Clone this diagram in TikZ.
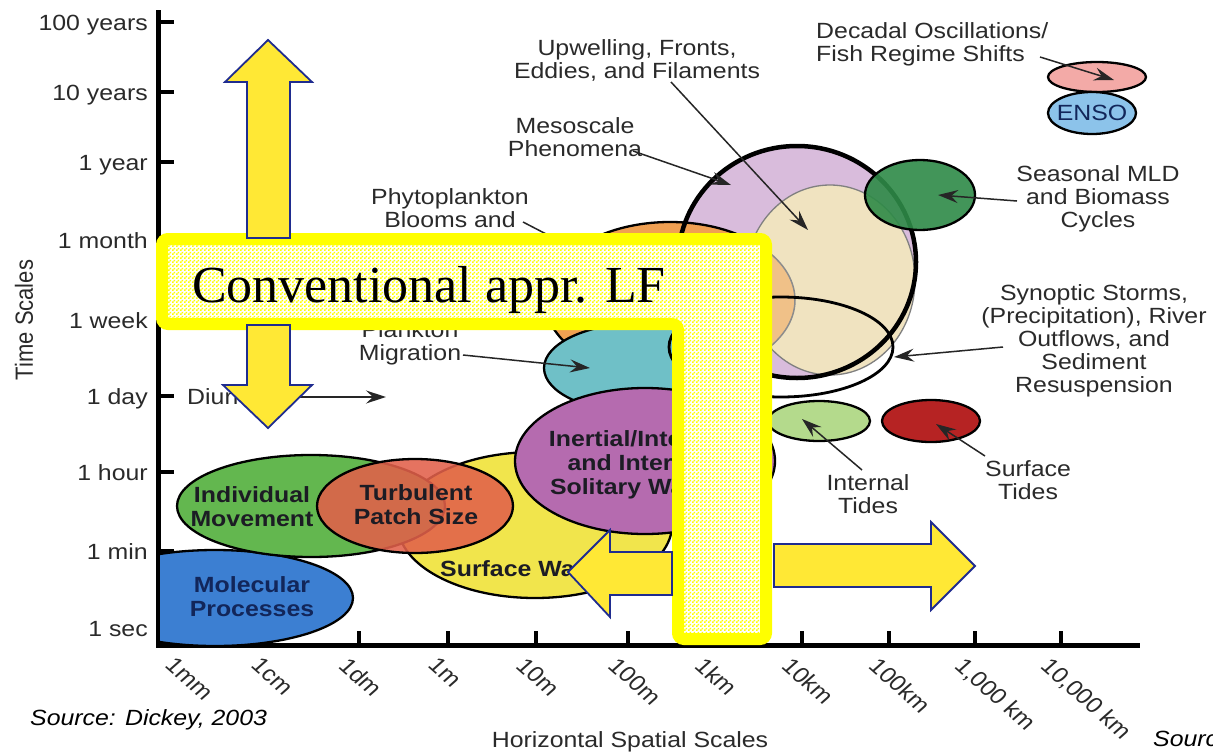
\documentclass[tikz,border=0pt]{standalone}
\usepackage{fontspec}
\setmainfont{Liberation Sans}
\newfontfamily\serifL{Liberation Serif}
\usetikzlibrary{arrows.meta,shapes.geometric,patterns.meta}

\definecolor{labgray}{HTML}{2A2A2A}
\definecolor{ctxt}{HTML}{1C1C24}
\definecolor{cnavy}{HTML}{12265A}
\definecolor{cyel}{HTML}{F1E54C}
\definecolor{cindiv}{HTML}{63B74F}
\definecolor{cturb}{HTML}{E2604A}
\definecolor{cmol}{HTML}{3C7FD2}
\definecolor{cpurp}{HTML}{B56BAF}
\definecolor{cteal}{HTML}{6FC0C7}
\definecolor{corange}{HTML}{F0A052}
\definecolor{clav}{HTML}{D9BCDC}
\definecolor{cbeige}{HTML}{F0E3C0}
\definecolor{citide}{HTML}{B4DA8C}
\definecolor{cstide}{HTML}{B62323}
\definecolor{cmld}{HTML}{2E8A47}
\definecolor{cdec}{HTML}{F3AAA7}
\definecolor{censo}{HTML}{8CC3EA}
\definecolor{ayellow}{HTML}{FFE835}
\definecolor{ablue}{HTML}{1F2C8F}
\definecolor{lyellow}{HTML}{FFFF00}

\pgfdeclarepattern{
  name=ychecker, type=uncolored,
  bottom left={\pgfpoint{0pt}{0pt}}, top right={\pgfpoint{4pt}{4pt}},
  tile size={\pgfpoint{4pt}{4pt}},
  code={\pgfpathrectangle{\pgfpoint{0pt}{0pt}}{\pgfpoint{2pt}{2pt}}%
        \pgfpathrectangle{\pgfpoint{2pt}{2pt}}{\pgfpoint{2pt}{2pt}}%
        \pgfusepath{fill}}
}

\begin{document}
\begin{tikzpicture}[x=1pt,y=-1pt,
  tick/.style={font=\fontsize{22}{23}\selectfont, text=labgray, xscale=1.13, inner sep=0pt},
  lab/.style={font=\fontsize{22}{23}\selectfont, text=labgray, xscale=1.13, align=center, inner sep=0pt},
  blab/.style={font=\bfseries\fontsize{22}{24}\selectfont, text=ctxt, xscale=1.13, align=center, inner sep=0pt},
  xtick/.style={tick, rotate=-45, anchor=north west},
  blob/.style={ellipse, draw=black, line width=2.3pt, inner sep=0pt, outer sep=0pt},
  ann/.style={draw=black!85, line width=1.5pt, -{Stealth[length=20pt,width=13pt,inset=7pt]}},
  yarrow/.style={fill=ayellow, draw=ablue, line width=1.8pt, line join=miter},
  tickline/.style={line width=4pt, black}
]
\useasboundingbox (0,0) rectangle (1213,755);
\clip (0,0) rectangle (1213,755);
\fill[white] (0,0) rectangle (1213,755);

% ---------- axes ----------
\coordinate (yTop) at (158,10);
\coordinate (xEnd) at (1140,645);
\draw[line width=5pt, line join=miter] (yTop) |- (xEnd);
\foreach \y/\t in {22/100 years, 92/10 years, 162/1 year, 240/1 month, 320/1 week, 396/1 day, 472/1 hour, 551/1 min, 628/1 sec}{
  \draw[tickline] (158,\y) -- (174,\y);
  \node[tick, anchor=base east] (yl\y) at (148,\y+8) {\t};
}
\foreach \x/\t in {185/1mm, 271/1cm, 359/1dm, 448/1m, 536/10m, 628/100m, 715/1km, 802/10km, 889/100km, 975/{1,000 km}, 1061/{10,000 km}}{
  \draw[tickline] (\x,645) -- (\x,631);
  \node[xtick] (xl\x) at ({\x-9},656) {\t};
}
\node[tick, rotate=90] (ytitle) at (24,320) {Time Scales};
\node[tick] (xtitle) at (630,742) {Horizontal Spatial Scales};
\node[tick, text=black, font=\itshape\fontsize{22}{23}\selectfont, anchor=west] (src1) at (30,720) {Source: Dickey, 2003};
\node[tick, text=black, font=\itshape\fontsize{22}{23}\selectfont, anchor=west] (src2) at (1153,741) {Source: Dickey, 2003};

% ---------- small-scale blobs ----------
\node[blob, fill=cyel, minimum width=274pt, minimum height=146pt] (surf) at (535,525) {};
\begin{scope}
  \clip (160,500) rectangle (420,700);
  \node[blob, fill=cmol, minimum width=276pt, minimum height=96pt] (mol) at (215,598) {};
\end{scope}
\node[blob, fill=cindiv, minimum width=268pt, minimum height=102pt] (indiv) at (311,506) {};
\node[blob, fill=cturb, fill opacity=0.88, minimum width=196pt, minimum height=94pt] (turb) at (415,506) {};

% ---------- mesoscale ----------
\node[ellipse, fill=clav, inner sep=0pt, minimum width=238pt, minimum height=232pt] (meso) at (797,262) {};
\node[blob, fill=corange, minimum width=250pt, minimum height=156pt] (bloom) at (670,300) {};
\node[ellipse, fill=cbeige, draw=black!50, line width=1.3pt, inner sep=0pt, minimum width=170pt, minimum height=190pt] (upw) at (830,280) {};
\begin{scope}
  \clip (upw.center) ellipse [x radius=84, y radius=94];
  \fill[corange, opacity=0.5] (bloom.center) ellipse [x radius=125, y radius=78];
  \draw[black!45, line width=1.5pt] (bloom.center) ellipse [x radius=125, y radius=78];
\end{scope}
\node[ellipse, draw=black, line width=4.5pt, inner sep=0pt, minimum width=238pt, minimum height=232pt] (mesoRim) at (797,262) {};
\node[blob, fill=cteal, minimum width=196pt, minimum height=90pt] (migr) at (642,368) {};
\node[blob, fill=cpurp, minimum width=260pt, minimum height=146pt] (inert) at (645,461) {};
\node[blob, minimum width=224pt, minimum height=100pt, line width=2.8pt] (synop) at (781,347) {};
\node[blob, fill=citide, minimum width=102pt, minimum height=40pt] (itide) at (819,421) {};
\node[blob, fill=cstide, minimum width=98pt, minimum height=42pt] (stide) at (931,421) {};
\node[blob, fill=cmld, fill opacity=0.9, minimum width=110pt, minimum height=70pt] (mld) at (920,195) {};
\node[blob, fill=cdec, minimum width=98pt, minimum height=30pt] (dec) at (1097,77) {};
\node[blob, fill=censo, minimum width=88pt, minimum height=42pt] (enso) at (1092,113) {};

% ---------- texts inside blobs ----------
\node[blab, text=cnavy] (molT) at (252,597) {Molecular\\Processes};
\node[blab] (indivT) at (252,507) {Individual\\Movement};
\node[blab] (turbT) at (416,505) {Turbulent\\Patch Size};
\node[blab, anchor=west] (surfT) at (440,569) {Surface Waves};
\node[blab] (inertT) at (638,465) {Inertial/Internal\\and Internal\\Solitary Waves};
\node[tick, text=cnavy] (ensoT) at (1092,113) {ENSO};

% ---------- labels and pointers ----------
\node[lab] (upwL) at (637,60) {Upwelling, Fronts,\\Eddies, and Filaments};
\coordinate (upwS) at (671,82); \coordinate (upwE) at (808,230);
\draw[ann] (upwS) -- (upwE);

\node[lab] (mesoL) at (575,137) {Mesoscale\\Phenomena};
\coordinate (mesoS) at (633,151); \coordinate (mesoE) at (731,185);
\draw[ann] (mesoS) -- (mesoE);

\node[lab, anchor=west, align=left] (decL) at (816,44) {Decadal Oscillations/\\Fish Regime Shifts};
\coordinate (decS) at (1040,57); \coordinate (decE) at (1114,80);
\draw[ann] (decS) -- (decE);

\node[lab] (mldL) at (1098,199) {Seasonal MLD\\and Biomass\\Cycles};
\coordinate (mldS) at (1017,201); \coordinate (mldE) at (938,195);
\draw[ann] (mldS) -- (mldE);

\node[lab] (synL) at (1094,341) {Synoptic Storms,\\(Precipitation), River\\Outflows, and\\Sediment\\Resuspension};
\coordinate (synS) at (1003,347); \coordinate (synE) at (894,357);
\draw[ann] (synS) -- (synE);

\node[lab] (itL) at (868,494) {Internal\\Tides};
\coordinate (itS) at (862,470); \coordinate (itE) at (802,419);
\draw[ann] (itS) -- (itE);

\node[lab] (stL) at (1028,480) {Surface\\Tides};
\coordinate (stS) at (985,456); \coordinate (stE) at (936,424);
\draw[ann] (stS) -- (stE);

\node[lab] (bloomL) at (450,208) {Phytoplankton\\Blooms and};
\coordinate (bloomS) at (523,222); \coordinate (bloomE) at (600,262);
\draw[ann] (bloomS) -- (bloomE);

\node[lab] (migrL) at (410,343) {Plankton\\Migration};
\coordinate (migrS) at (463,355); \coordinate (migrE) at (590,368);
\draw[ann] (migrS) -- (migrE);

\node[lab, anchor=west] (diurL) at (187,397) {Diurnal};
\coordinate (diurS) at (272,397); \coordinate (diurE) at (386,397);
\draw[ann] (diurS) -- (diurE);

% ---------- the L frame ----------
\path[fill=white] (162,239) -- (766,239) -- (766,639) -- (678,639) -- (678,324) -- (162,324) -- cycle;
\path[pattern={ychecker}, pattern color=lyellow] (162,239) -- (766,239) -- (766,639) -- (678,639) -- (678,324) -- (162,324) -- cycle;
\draw[lyellow, line width=12pt, rounded corners=6pt] (162,239) -- (766,239) -- (766,639) -- (678,639) -- (678,324) -- (162,324) -- cycle;
\node[font=\serifL\fontsize{52}{60}\selectfont, anchor=base, inner sep=0pt] (conv) at (429,302) {Conventional appr. LF};

% ---------- yellow arrows ----------
\draw[yarrow] (268,40) -- (312,82) -- (290,82) -- (290,238) -- (247,238) -- (247,82) -- (225,82) -- cycle;
\draw[yarrow] (268,428) -- (312,385) -- (290,385) -- (290,325) -- (247,325) -- (247,385) -- (223,385) -- cycle;
\draw[yarrow] (568,572) -- (610,530) -- (610,552) -- (672,552) -- (672,595) -- (610,595) -- (610,617) -- cycle;
\draw[yarrow] (975,566) -- (931,522) -- (931,544) -- (774,544) -- (774,587) -- (931,587) -- (931,610) -- cycle;
\end{tikzpicture}
\end{document}
